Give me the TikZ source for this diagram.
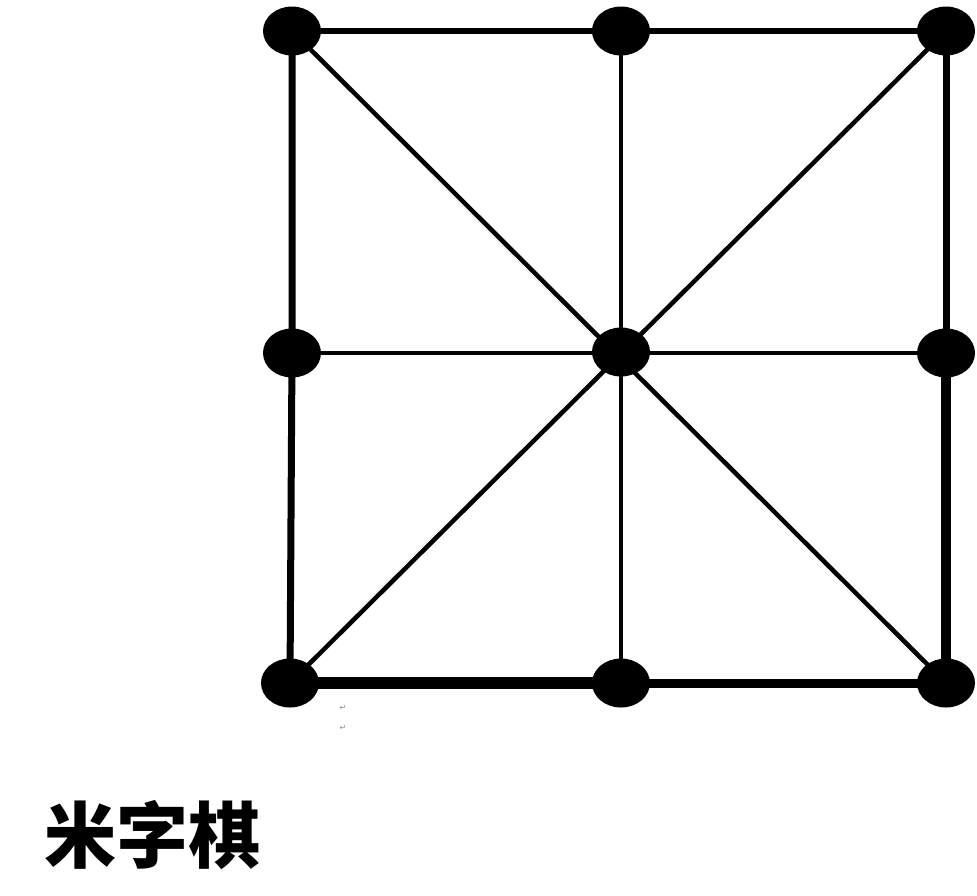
\documentclass[tikz,border=0pt]{standalone}
\usepackage{fontspec}
\newfontfamily\cjk{Noto Sans CJK SC}
\newfontfamily\symb{DejaVu Sans}
\usetikzlibrary{shapes.geometric,backgrounds}

\tikzset{
    dot/.style={ellipse,fill=black,inner sep=0pt,minimum width=58pt,minimum height=49pt},
    inner line/.style={line width=4.5pt},
    retmark/.style={text=black!45,font=\symb\fontsize{8}{8}\selectfont,inner sep=0pt}
}

\begin{document}
\begin{tikzpicture}[x=1pt,y=-1pt]
        \useasboundingbox (0,0) rectangle (977,895);

        % points of the board
        \node[dot] (tl) at (292,31) {};
        \node[dot] (tm) at (621,31) {};
        \node[dot] (tr) at (946,31) {};
        \node[dot] (ml) at (292,353) {};
        \node[dot] (c)  at (621,352) {};
        \node[dot] (mr) at (946,353) {};
        \node[dot] (bl) at (290,683) {};
        \node[dot] (bm) at (621,683) {};
        \node[dot] (br) at (946,683) {};

        \begin{scope}[on background layer]
            % outer square
            \draw[line width=6pt] (tl.center) -- (tm.center) -- (tr.center);
            \draw[line width=7pt] (tl.center) -- (ml.center) -- (bl.center);
            \draw[line width=7pt] (tr.center) -- (mr.center);
            \draw[line width=10pt] (mr.center) -- (br.center);
            \draw[line width=12pt] (bl.center) -- (bm.center);
            \draw[line width=9pt] (bm.center) -- (br.center);

            % middle lines and diagonals
            \draw[inner line] (ml.center) -- (mr.center);
            \draw[inner line] (tm.center) -- (bm.center);
            \draw[inner line] (tl.center) -- (br.center);
            \draw[inner line] (tr.center) -- (bl.center);
        \end{scope}

        \node[retmark] (p1) at (343,708) {↵};
        \node[retmark] (p2) at (343,728) {↵};

        \node[font=\cjk\bfseries\fontsize{72}{72}\selectfont,inner sep=0pt] (title) at (152,835) {米字棋};
    \end{tikzpicture}
\end{document}
